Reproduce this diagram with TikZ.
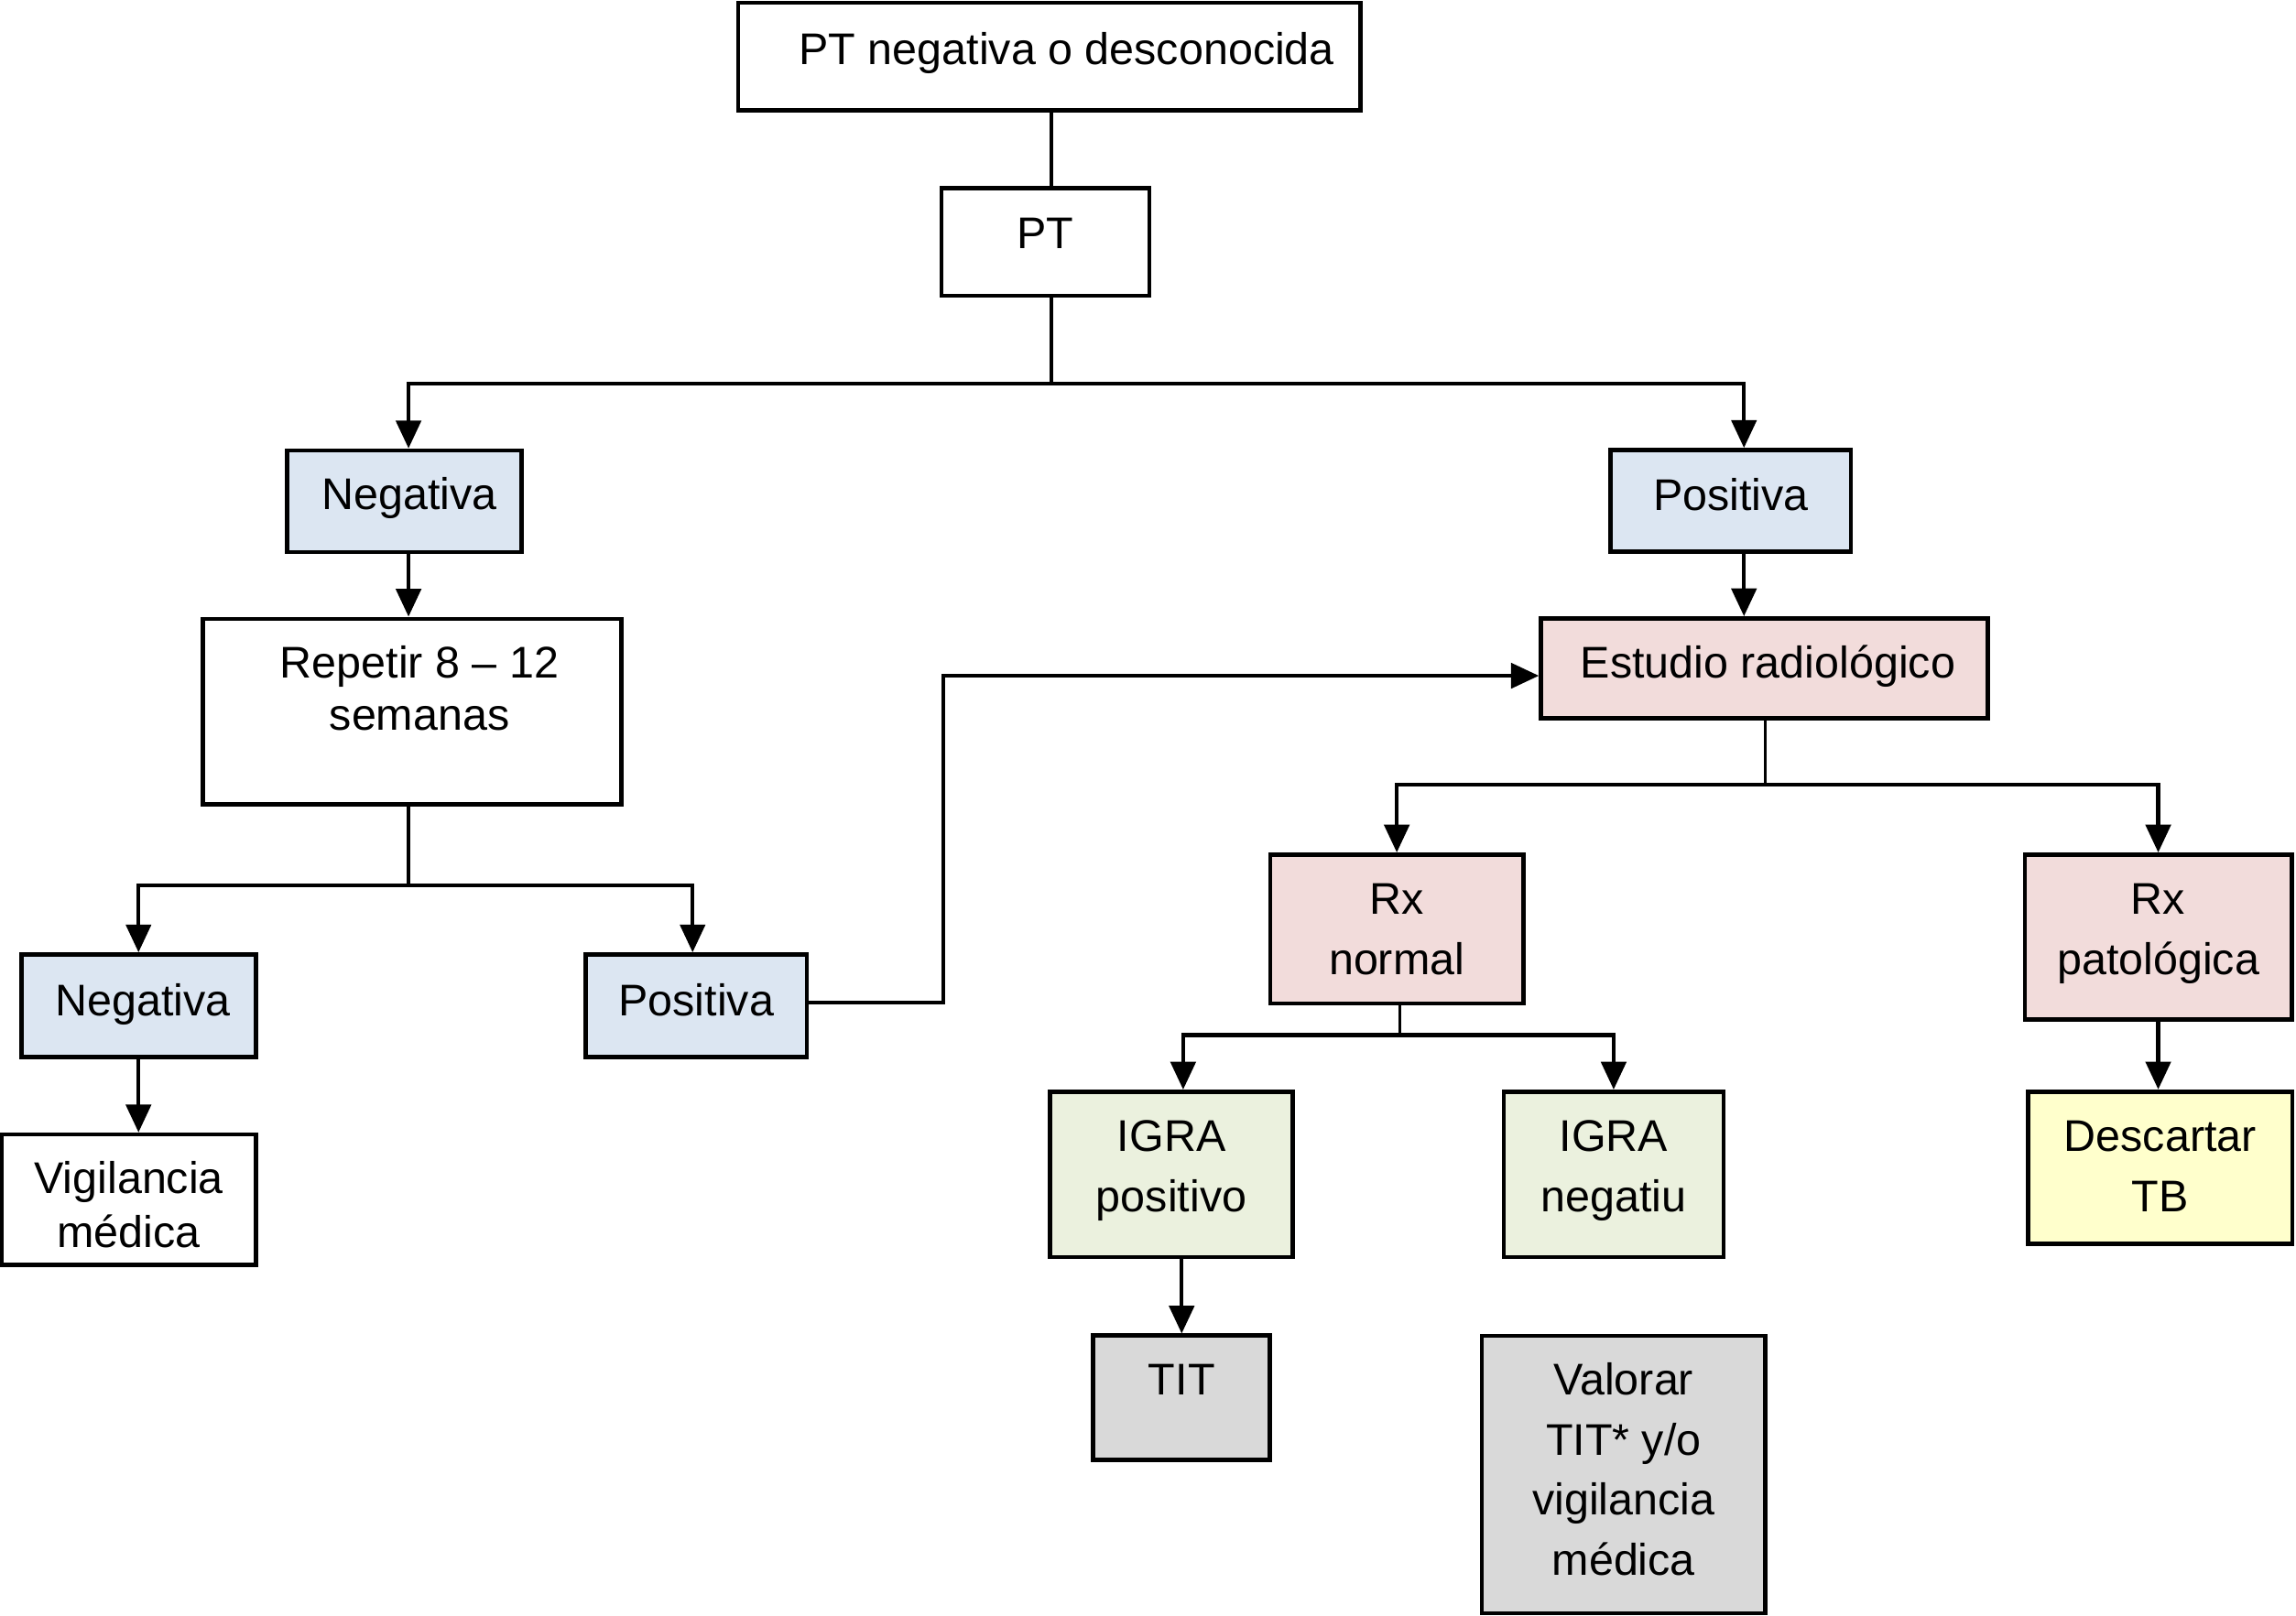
\documentclass[tikz,border=0pt]{standalone}
\usepackage{fontspec}
\setmainfont{Liberation Sans}
\usetikzlibrary{arrows.meta}
\definecolor{cblue}{HTML}{DCE6F2}
\definecolor{cpink}{HTML}{F2DCDB}
\definecolor{cgreen}{HTML}{EBF1DE}
\definecolor{cgray}{HTML}{D9D9D9}
\definecolor{cyellow}{HTML}{FFFFCC}
\begin{document}
\begin{tikzpicture}[x=1pt,y=-1pt,
  box/.style={draw=black, line width=2.9pt, rectangle, inner sep=0pt, align=center,
    font=\fontsize{30.3}{41}\selectfont},
  arr/.style={line width=2.7pt, -{Triangle[length=19pt,width=17pt]}},
  stem/.style={line width=2pt},
]
\fill[white] (0,0) rectangle (1568,1103.3);
\useasboundingbox (0,0) rectangle (1568,1103.3);

\node[box, minimum width=425pt, minimum height=73.6pt, text height=10.4pt, text depth=0pt] (top) at (716.5,38.6) {\hspace*{24pt}PT negativa o desconocida};
\node[box, minimum width=142pt, minimum height=73.6pt, text height=8.4pt, text depth=0pt] (pt) at (714,165.3) {PT};
\node[box, fill=cblue, minimum width=160pt, minimum height=69.3pt, text height=11.2pt, text depth=0pt] (neg1) at (276,342.4) {\hspace*{7pt}Negativa};
\node[box, fill=cblue, minimum width=164pt, minimum height=69.6pt, text height=12.4pt, text depth=0pt] (pos1) at (1182,342.2) {Positiva};
\node[box, minimum width=286pt, minimum height=126.6pt, text height=26pt, text depth=0pt, font=\fontsize{30.3}{36}\selectfont] (rep) at (281.5,486) {\hspace*{10pt}Repetir 8 – 12\\\hspace*{10pt}semanas};
\node[box, fill=cblue, minimum width=160.2pt, minimum height=70pt, text height=14pt, text depth=0pt] (neg2) at (94.6,687) {\hspace*{6pt}Negativa};
\node[box, fill=cblue, minimum width=151pt, minimum height=70pt, text height=14pt, text depth=0pt] (pos2) at (475.5,687) {Positiva};
\node[box, minimum width=173.4pt, minimum height=89pt, text height=65.4pt, text depth=0pt, font=\fontsize{30.3}{36.7}\selectfont] (vig) at (88,819.5) {Vigilancia\\médica};
\node[box, fill=cpink, minimum width=305pt, minimum height=68.4pt, text height=13.6pt, text depth=0pt] (est) at (1204.9,456.6) {\hspace*{5pt}Estudio radiológico};
\node[box, fill=cpink, minimum width=173pt, minimum height=101.6pt, text height=62pt, text depth=0pt] (rxn) at (953.9,634.6) {Rx\\normal};
\node[box, fill=cpink, minimum width=182.2pt, minimum height=112.8pt, text height=51.2pt, text depth=0pt] (rxp) at (1473.9,640.2) {Rx\\patológica};
\node[box, fill=cgreen, minimum width=166pt, minimum height=112.9pt, text height=51pt, text depth=0pt] (igp) at (800,802.2) {IGRA\\positivo};
\node[box, fill=cgreen, minimum width=150pt, minimum height=112.9pt, text height=51pt, text depth=0pt] (ign) at (1102,802.2) {IGRA\\negatiu};
\node[box, fill=cyellow, minimum width=180.5pt, minimum height=103.9pt, text height=60.4pt, text depth=0pt] (desc) at (1475.3,797.6) {Descartar\\TB};
\node[box, fill=cgray, minimum width=120.7pt, minimum height=84.8pt, text height=0pt, text depth=4pt] (tit) at (807,954.8) {TIT};
\node[box, fill=cgray, minimum width=193.5pt, minimum height=189.5pt, text height=137.4pt, text depth=0pt] (val) at (1108.8,1007.2) {Valorar\\TIT* y/o\\vigilancia\\médica};

\coordinate (j1) at (718,262);
\draw[stem] (top.south -| j1) -- (pt.north -| j1);
\draw[stem] (pt.south -| j1) -- (j1);
\draw[arr] (j1) -| ([xshift=3pt]neg1.north);
\draw[arr] (j1) -| ([xshift=9pt]pos1.north);

\draw[arr] ([xshift=3pt]neg1.south) -- ([xshift=3pt]neg1.south |- rep.north);
\coordinate (j2) at (279,604.6);
\draw[stem] (rep.south -| j2) -- (j2);
\draw[arr] (j2) -| (neg2.north);
\draw[arr] (j2) -| ([xshift=-2.5pt]pos2.north);
\draw[arr] (neg2.south) -- (neg2.south |- vig.north);

\coordinate (k1) at (644,600);
\draw[arr] ([yshift=2pt]pos2.east) -- ([yshift=2pt]pos2.east -| k1) |- ([yshift=-5pt]est.west);
\draw[arr] ([xshift=9pt]pos1.south) -- ([xshift=9pt]pos1.south |- est.north);

\coordinate (j3) at (1205.6,536);
\draw[stem] (est.south -| j3) -- (j3);
\draw[arr] (j3) -| (rxn.north);
\draw[arr] (j3) -| (rxp.north);

\coordinate (j4) at (956,707);
\draw[stem] (rxn.south -| j4) -- (j4);
\draw[arr] (j4) -| ([xshift=8pt]igp.north);
\draw[arr] (j4) -| (ign.north);
\draw[arr] (tit.north |- igp.south) -- (tit.north);
\draw[arr] (rxp.south) -- (rxp.south |- desc.north);
\end{tikzpicture}
\end{document}
